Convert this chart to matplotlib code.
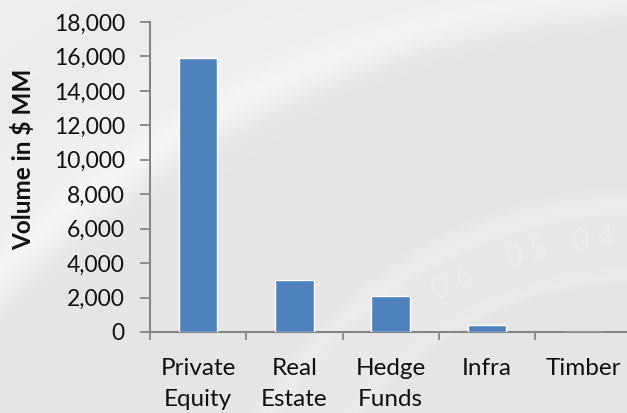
import numpy as np
import matplotlib
matplotlib.use("Agg")
import matplotlib.pyplot as plt
from matplotlib.ticker import FuncFormatter, FixedLocator

categories = ["Private\nEquity", "Real\nEstate", "Hedge\nFunds", "Infra", "Timber"]
volumes = [15900, 3000, 2100, 400, 0]
y_ticks = [0, 2000, 4000, 6000, 8000, 10000, 12000, 14000, 16000, 18000]

plt.rcParams["font.family"] = ["Lato", "DejaVu Sans"]

W, H = 627, 413
fig = plt.figure(figsize=(W / 100, H / 100), dpi=100)

# soft grey backdrop: a lighter sweeping band plus a faint dial in the corner
bg = fig.add_axes([0, 0, 1, 1], zorder=-10)
yy, xx = np.mgrid[0:H, 0:W]
base = np.full((H, W), 0.90)
# brighter upper-left region fading into the grey
base += 0.035 * np.clip(1 - (xx / 500 + yy / 350), 0, 1)
sx, sy = 700.0, 1000.0
rs = np.hypot(xx - sx, yy - sy)
base += 0.05 * np.exp(-((rs - 1010) / 22.0) ** 2)
base += 0.025 * np.exp(-((rs - 1060) / 40.0) ** 2) * (rs > 1010)
dx, dy = 640.0, 640.0
rd = np.hypot(xx - dx, yy - dy)
base += 0.022 * np.exp(-((rd - 440) / 10.0) ** 2)
base += 0.02 * np.exp(-((rd - 365) / 6.0) ** 2)
base += 0.012 * ((rd > 370) & (rd < 435))
base = np.clip(base, 0, 1)
bg.imshow(np.dstack([base, base, base]), extent=[0, W, H, 0], aspect="auto",
          interpolation="bilinear")
bg.set_xlim(0, W)
bg.set_ylim(H, 0)
for lbl, ang in [("0 6", 117.6), ("0 5", 106.3), ("0 4", 96.7)]:
    a = np.deg2rad(ang)
    bg.text(dx + 403 * np.cos(a), dy - 403 * np.sin(a), lbl, fontsize=22,
            color="#f2f2f2", alpha=0.6, rotation=ang - 90,
            ha="center", va="center")
bg.axis("off")

ax = fig.add_axes([150 / W, (H - 332) / H, 481.5 / W, 310 / H])
ax.patch.set_alpha(0)

x = np.arange(len(categories))
ax.bar(x, volumes, width=0.4, color="#4f81bd", edgecolor="white",
       linewidth=1.0, zorder=3)

ax.set_xlim(-0.5, len(categories) - 0.5)
ax.set_ylim(0, 18000)
ax.yaxis.set_major_locator(FixedLocator(y_ticks))
ax.yaxis.set_major_formatter(FuncFormatter(lambda v, p: f"{int(v):,}"))

ax.xaxis.set_major_locator(FixedLocator(np.arange(len(categories)) - 0.5))
ax.xaxis.set_major_formatter(FuncFormatter(lambda v, p: ""))
ax.xaxis.set_minor_locator(FixedLocator(x))
ax.set_xticklabels(categories, minor=True)
ax.tick_params(axis="x", which="minor", length=0, pad=19, labelsize=17.5,
               labelcolor="#111111")
for t in ax.get_xticklabels(minor=True):
    t.set_linespacing(1.55)
ax.tick_params(axis="x", which="major", length=6, width=1.3,
               color="#868686", direction="out")
ax.tick_params(axis="y", length=7, width=1.3, color="#868686", pad=11,
               labelsize=16.5, labelcolor="#111111")

for s in ["top", "right"]:
    ax.spines[s].set_visible(False)
for s in ["left", "bottom"]:
    ax.spines[s].set_color("#868686")
    ax.spines[s].set_linewidth(1.5)

ax.set_ylabel("Volume in $ MM", fontsize=17.5, fontweight="bold",
              color="#111111", va="center")
ax.yaxis.set_label_coords(-(150 - 23) / 481.5, (332 - 159) / 310)

fig.savefig("out.png", dpi=100)
